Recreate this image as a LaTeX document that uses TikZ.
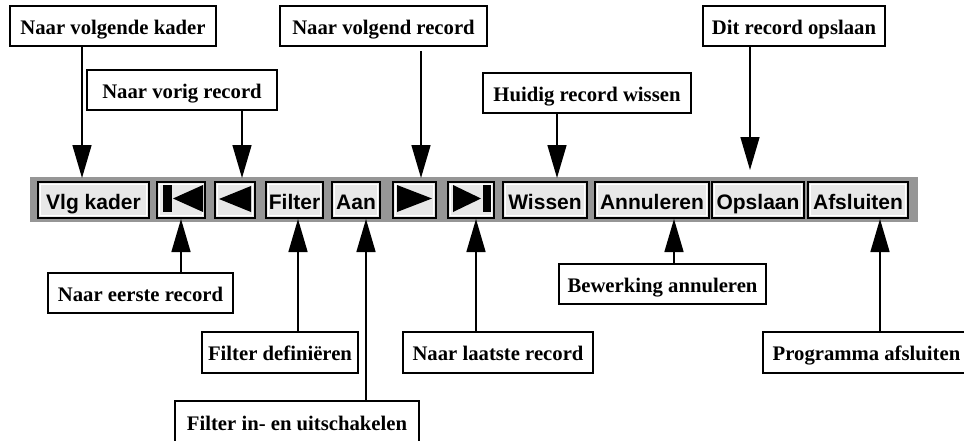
\documentclass[tikz,border=0pt]{standalone}
\usepackage{fontspec}
\setmainfont{Liberation Serif}
\newfontfamily\btnfont{Liberation Sans}
\usetikzlibrary{arrows.meta}
\definecolor{bandgray}{HTML}{969696}
\definecolor{btngray}{HTML}{E8E8E8}
\begin{document}
\begin{tikzpicture}[x=1pt,y=-1pt,
  lbl/.style={draw=black, line width=1.5pt, fill=white, inner sep=0pt,
    minimum height=40pt, text height=18pt, text depth=2pt,
    font={\fontsize{20.7pt}{24pt}\selectfont\bfseries}},
  btn/.style={draw=black, line width=1.6pt, fill=btngray, inner sep=0pt,
    minimum height=36pt, text height=20pt, text depth=2pt,
    font={\btnfont\fontsize{21pt}{24pt}\selectfont\bfseries},
    path picture={\draw[white, line width=1pt]
      ([shift={(2.2pt,-2.2pt)}]path picture bounding box.north west) rectangle
      ([shift={(-2.2pt,2.2pt)}]path picture bounding box.south east);}},
  arr/.style={line width=1.5pt, -{Triangle[length=33pt,width=19pt]}},
  icon/.style={fill=black, draw=none}]
\useasboundingbox (0,0) rectangle (964,440);

% toolbar band
\node[fill=bandgray, draw=none, minimum width=888pt, minimum height=45pt, inner sep=0pt] (band) at (474,199.5) {};

% buttons
\node[btn, minimum width=111pt] (b1) at (93.5,200) {Vlg kader};
\node[btn, minimum width=48pt] (b2) at (181,200) {};
\node[btn, minimum width=40pt] (b3) at (235,200) {};
\node[btn, minimum width=57pt] (b4) at (294.5,200) {Filter};
\node[btn, minimum width=48pt] (b5) at (356,200) {Aan};
\node[btn, minimum width=43pt] (b6) at (414.5,200) {};
\node[btn, minimum width=46pt] (b7) at (471,200) {};
\node[btn, minimum width=84pt] (b8) at (545,200) {Wissen};
\node[btn, minimum width=114pt] (b9) at (652,200) {Annuleren};
\node[btn, minimum width=92pt] (b10) at (758,200) {Opslaan};
\node[btn, minimum width=100pt] (b11) at (858,200) {Afsluiten};

% icons
\fill[icon] (163,185) rectangle (172,212);
\fill[icon] (173,198.5) -- (203,185) -- (203,212) -- cycle;
\fill[icon] (219,199) -- (251,186) -- (251,212) -- cycle;
\fill[icon] (397,185) -- (397,212) -- (432,198.5) -- cycle;
\fill[icon] (453,185) -- (453,212) -- (481,198.5) -- cycle;
\fill[icon] (483,185) rectangle (491,212);

% top labels
\node[lbl, minimum width=206pt] (l1) at (113,26) {Naar volgende kader};
\node[lbl, minimum width=190pt] (l2) at (182,90) {Naar vorig record};
\node[lbl, minimum width=207pt] (l3) at (383.5,26) {Naar volgend record};
\node[lbl, minimum width=208pt] (l4) at (587,93) {Huidig record wissen};
\node[lbl, minimum width=182pt] (l5) at (794,26) {Dit record opslaan};

% bottom labels
\node[lbl, minimum width=185pt] (l6) at (140.5,293) {Naar eerste record};
\node[lbl, minimum width=156pt, minimum height=41pt] (l7) at (280,352.5) {Filter definiëren};
\node[lbl, minimum width=244pt, minimum height=42pt] (l8) at (297,422) {Filter in- en uitschakelen};
\node[lbl, minimum width=190pt, minimum height=41pt] (l9) at (498,352.5) {Naar laatste record};
\node[lbl, minimum width=207pt] (l10) at (662.5,284) {Bewerking annuleren};
\node[lbl, minimum width=207pt, minimum height=41pt] (l11) at (866.5,352.5) {Programma afsluiten};

% arrow tip coordinates
\coordinate (t1) at (82,178);
\coordinate (t2) at (242,178);
\coordinate (t3) at (421,178);
\coordinate (t4) at (557,178);
\coordinate (t5) at (750,170);
\coordinate (u1) at (181,219);
\coordinate (u2) at (298,219);
\coordinate (u3) at (366,219);
\coordinate (u4) at (476,219);
\coordinate (u5) at (674,219);
\coordinate (u6) at (880,219);

% connectors
\draw[arr] (l1.south -| t1) -- (t1);
\draw[arr] (l2.south -| t2) -- (t2);
\draw[arr, shorten <=4pt] (l3.south -| t3) -- (t3);
\draw[arr] (l4.south -| t4) -- (t4);
\draw[arr] (l5.south -| t5) -- (t5);
\draw[arr] (l6.north -| u1) -- (u1);
\draw[arr] (l7.north -| u2) -- (u2);
\draw[arr] (l8.north -| u3) -- (u3);
\draw[arr] (l9.north -| u4) -- (u4);
\draw[arr] (l10.north -| u5) -- (u5);
\draw[arr] (l11.north -| u6) -- (u6);
\end{tikzpicture}
\end{document}
